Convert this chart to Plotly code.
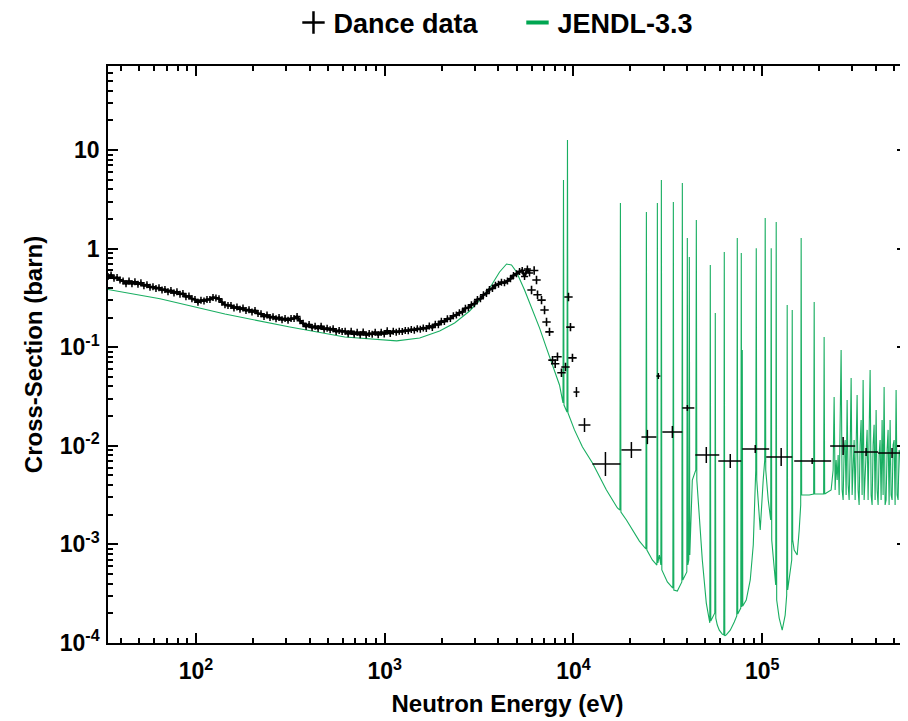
import numpy as np
import plotly.graph_objects as go

# %%
# JENDL-3.3 evaluated cross-section (eV, barn)
jendl_energy = [
    34.2, 64.5, 142.4, 314.4, 614.3, 1157, 1532, 1954, 2346, 2816, 3300, 3683,
    4060, 4421, 4697, 4993, 5505, 6069, 6609, 7197, 7743, 8432, 8800, 8854, 8908,
    9075, 9237, 9295, 9352, 10120, 11160, 12610, 14950, 17090, 17620, 17730, 17840,
    19080, 20520, 22350, 24190, 24340, 24490, 26180, 27660, 27830, 28000, 28520,
    29040, 29220, 29390, 31430, 33610, 33820, 34020, 35500, 37510, 37740, 37970,
    39140, 39860, 40100, 40350, 40840, 41090, 41340, 42620, 44480, 44760, 45030,
    45860, 48150, 50550, 52430, 52750, 53070, 53390, 54380, 55730, 56070, 56410,
    56760, 57800, 59220, 61430, 62570, 62950, 63340, 64510, 67720, 71110, 73310,
    73760, 74210, 76970, 77450, 77920, 78400, 78880, 82290, 86410, 89640, 92420,
    92980, 93540, 97590, 101200, 103100, 103700, 104400, 107600, 110900, 111600,
    112300, 117900, 118600, 119300, 123000, 127600, 132300, 134800, 135600, 136400,
    138900, 143300, 144200, 145000, 147700, 153200, 157000, 159900, 160800, 161800,
    177400, 187300, 188500, 189600, 211500, 212800, 214200, 231800,
    237500, 240400, 243400, 246400, 249400, 252500, 255600, 258700, 261800, 265000,
    268300, 271600, 274900, 278300, 281700, 285200, 288700, 292200, 295800, 299400,
    303100, 306800, 310600, 314400, 318200, 322100, 326100, 330100, 334100, 338200,
    342400, 346600, 350800, 355100, 359500, 363900, 368400, 372900, 377500, 382100,
    386800, 391500, 396300, 401200, 406100, 411100, 416100, 421200, 426400, 431600,
    436900, 442300, 447700, 453200, 458800, 464400, 470100, 475900, 481700, 487600,
    493600, 499700, 505800, 512000, 518300, 524600, 531100, 537600, 544200, 550800,
    557600, 564400, 571300, 578300,
]
jendl_xs = [
    0.385, 0.31, 0.217, 0.160, 0.127, 0.116, 0.124, 0.146, 0.176, 0.233, 0.323, 0.427,
    0.579, 0.698, 0.682, 0.579, 0.380, 0.238, 0.157, 0.098, 0.066, 0.0414, 0.0272, 4.96, 0.0259,
    0.0242, 0.0220, 12.6, 0.0215, 0.0145, 0.00972, 0.00669, 0.00356, 0.00234, 0.00223, 2.90, 0.00213,
    0.00177, 0.00140, 0.00108, 0.000898, 2.35, 0.000877, 0.000695, 0.000618, 2.90, 0.00065, 0.000781,
    0.000618, 4.96, 0.00055, 0.000416, 0.000361, 2.97, 0.000345, 0.000337, 0.000416, 4.63, 0.000436,
    0.000489, 0.000525, 1.28, 0.000618, 0.000695, 0.822, 0.000781, 0.0045, 0.00568, 1.95, 0.0045,
    0.00282, 0.000695, 0.000254, 0.000163, 0.00016, 0.682, 0.000167, 0.000179, 0.000202, 0.000202, 0.222,
    0.000179, 0.000152, 0.000135, 0.000123, 0.000121, 0.924, 0.000118, 0.000121, 0.000135, 0.000163, 0.000188,
    1.28, 0.000197, 0.000226, 0.902, 0.000232, 0.0937, 0.000237, 0.000273, 0.000436, 0.000986, 0.00568,
    1.01, 0.0045, 0.0014, 0.0045, 0.00718, 2.04, 0.00568, 0.00282, 0.00177, 1.01,
    0.00111, 0.000388, 1.86, 0.000273, 0.000179, 0.000135, 0.000192, 0.000307, 0.268, 0.000345,
    0.000436, 0.000695, 0.238, 0.00111, 0.000877, 0.000781, 0.0014, 0.00251, 1.28, 0.00317,
    0.00317, 0.00324, 0.287, 0.00324, 0.00324, 0.127, 0.00324, 0.00356,
    0.00568, 0.0312, 0.00356, 0.00718, 0.0045, 0.00807, 0.00317, 0.0145, 0.0937, 0.00356,
    0.00282, 0.00909, 0.01145, 0.00317, 0.0291, 0.0040, 0.00282, 0.00807, 0.0487, 0.00317,
    0.00568, 0.01145, 0.00282, 0.0183, 0.0327, 0.00356, 0.00251, 0.0102, 0.0183, 0.00317,
    0.0465, 0.00282, 0.00568, 0.01145, 0.0145, 0.00282, 0.00909, 0.0587, 0.00317, 0.00251,
    0.0102, 0.0163, 0.00282, 0.0231, 0.00356, 0.00251, 0.00807, 0.01145, 0.00282, 0.0183,
    0.00317, 0.0395, 0.00251, 0.00282, 0.00909, 0.0145, 0.00251, 0.0183, 0.00317, 0.00282,
    0.0102, 0.01145, 0.00251, 0.0368, 0.00317, 0.00282, 0.00909, 0.00807, 0.00251, 0.0183,
    0.00317, 0.00356, 0.0102, 0.00718,
]

# DANCE data, fine binning (eV, barn)
dance_energy = [
    34.2, 35.5, 36.8, 38.2, 39.6, 41.1, 42.6, 44.2, 45.8, 47.5, 49.3, 51.1, 53.0, 55.0,
    57.1, 59.2, 61.4, 63.7, 66.1, 68.5, 71.1, 73.7, 76.5, 79.3, 82.3, 85.3, 88.5, 91.8,
    95.2, 98.8, 102.5, 106.3, 110.3, 114.4, 118.6, 123.1, 127.6, 132.4, 137.3, 142.5,
    147.8, 153.3, 159.0, 164.9, 171.1, 177.5, 184.1, 191.0, 198.1, 205.5, 213.2, 221.1,
    229.4, 237.9, 246.8, 256.0, 265.6, 275.5, 285.8, 296.5, 307.5, 319.0, 330.9, 343.3,
    356.1, 369.4, 383.2, 397.5, 412.3, 427.7, 443.7, 460.3, 477.5, 495.3, 513.8, 533.0,
    552.9, 573.5, 595.0, 617.2, 640.2, 664.1, 688.9, 714.6, 741.3, 769.0, 797.7, 827.5,
    858.4, 890.4, 923.7, 958.2, 994.0, 1031, 1070, 1110, 1151, 1194, 1239, 1285, 1333,
    1383, 1435, 1488, 1544, 1601, 1661, 1723, 1788, 1854, 1924, 1996, 2070, 2148, 2228,
    2311, 2397, 2487, 2580, 2676, 2776, 2880, 2987, 3099, 3215, 3335, 3459, 3588, 3722,
    3861, 4006, 4155, 4310, 4471, 4638, 4812, 4991, 5180, 5350, 5505, 5700, 5850, 5996,
    6190, 6371, 6450, 6774, 7026, 7199, 7464, 7744, 8000, 8228, 8639, 9073, 9408, 9641,
    9878,
]
dance_xs = [
    0.52, 0.54, 0.50, 0.51, 0.48, 0.47, 0.44, 0.47, 0.44, 0.46, 0.435, 0.45, 0.42, 0.43,
    0.405, 0.41, 0.395, 0.40, 0.38, 0.385, 0.365, 0.375, 0.355, 0.365, 0.345, 0.35, 0.325, 0.33,
    0.31, 0.305, 0.285, 0.30, 0.295, 0.305, 0.305, 0.32, 0.315, 0.31, 0.285, 0.27,
    0.265, 0.265, 0.25, 0.255, 0.243, 0.25, 0.235, 0.24, 0.228, 0.236, 0.22, 0.218,
    0.205, 0.212, 0.20, 0.204, 0.194, 0.2, 0.19, 0.195, 0.188, 0.195, 0.195, 0.205,
    0.185, 0.175, 0.162, 0.17, 0.158, 0.163, 0.155, 0.163, 0.152, 0.156, 0.15, 0.154,
    0.144, 0.148, 0.144, 0.145, 0.137, 0.145, 0.135, 0.142, 0.134, 0.143, 0.133, 0.138,
    0.135, 0.142, 0.134, 0.142, 0.136, 0.147, 0.138, 0.145, 0.142, 0.145, 0.144, 0.148, 0.147,
    0.151, 0.149, 0.154, 0.152, 0.157, 0.155, 0.164, 0.158, 0.171, 0.169, 0.183, 0.182, 0.194, 0.195,
    0.208, 0.212, 0.224, 0.228, 0.248, 0.252, 0.27, 0.276, 0.305, 0.31, 0.34, 0.35, 0.385, 0.395,
    0.425, 0.435, 0.455, 0.45, 0.47, 0.495, 0.535, 0.555, 0.585, 0.60, 0.52, 0.62, 0.565, 0.38,
    0.60, 0.48, 0.34, 0.30, 0.238, 0.18, 0.143, 0.074, 0.068, 0.080, 0.055, 0.063, 0.323, 0.160,
    0.078,
]
dance_continuous_upto = 5850  # eV, above this the fine bins are scattered

# DANCE data, coarse bins with energy bin edges and cross-section error band
binned_energy = [10370, 11440, 14770, 20270, 24640, 28170, 33420, 40110, 50550, 67720,
                 91830, 126000, 183900, 268300, 355000, 487300]
binned_e_lo = [10000, 10630, 12610, 17950, 22910, 27500, 29570, 37740, 44210, 58510,
               78400, 105000, 147700, 229000, 306800, 411000]
binned_e_hi = [10760, 12300, 17730, 22910, 27500, 28870, 37740, 43680, 59220, 77450,
               108900, 144200, 231800, 310600, 411000, 578000]
binned_xs = [0.0351, 0.01625, 0.00654, 0.00908, 0.01228, 0.0510, 0.0138, 0.0242, 0.00807,
             0.00701, 0.00928, 0.0077, 0.00701, 0.00995, 0.00865, 0.00845]
binned_xs_lo = [0.0312, 0.0138, 0.00494, 0.00752, 0.0104, 0.0476, 0.0120, 0.0226, 0.00669,
                0.00595, 0.00846, 0.00624, 0.00654, 0.00807, 0.0079, 0.00752]
binned_xs_hi = [0.0395, 0.0191, 0.00865, 0.01092, 0.0145, 0.0547, 0.0159, 0.0259, 0.00972,
                0.00826, 0.0102, 0.0095, 0.00752, 0.01228, 0.0095, 0.0095]

x_tickvals = [1e2, 1e3, 1e4, 1e5]
x_ticktext = ["10<sup>2</sup>", "10<sup>3</sup>", "10<sup>4</sup>", "10<sup>5</sup>"]
y_tickvals = [1e-4, 1e-3, 1e-2, 1e-1, 1, 10]
y_ticktext = ["10<sup>-4</sup>", "10<sup>-3</sup>", "10<sup>-2</sup>", "10<sup>-1</sup>", "1", "10"]

green = "rgb(0,166,81)"
font_family = "Liberation Sans, Arial, Helvetica, sans-serif"
x_range = [1.534, 5.767]
y_range = [-4, 1.852]

# minor tick positions, 2..9 within each decade
x_minor = [m * 10.0**d for d in range(1, 6) for m in range(2, 10)]
y_minor = [m * 10.0**d for d in range(-4, 2) for m in range(2, 10)]

# %%
fig = go.Figure()

fig.add_trace(
    go.Scatter(
        x=jendl_energy, y=jendl_xs, mode="lines", showlegend=False,
        line={"color": green, "width": 1.1}, opacity=0.9,
    )
)

de = np.array(dance_energy)
dx = np.array(dance_xs)
cont = de <= dance_continuous_upto
fig.add_trace(
    go.Scatter(
        x=de[cont], y=dx[cont], mode="lines+markers", showlegend=False,
        line={"color": "black", "width": 2.6},
        marker={"symbol": "cross-thin", "size": 5, "line": {"width": 1.5, "color": "black"}},
    )
)
fig.add_trace(
    go.Scatter(
        x=de[~cont], y=dx[~cont], mode="markers", showlegend=False,
        marker={"symbol": "cross-thin", "size": 6, "line": {"width": 1.6, "color": "black"}},
    )
)

be = np.array(binned_energy)
bx = np.array(binned_xs)
fig.add_trace(
    go.Scatter(
        x=binned_energy, y=binned_xs, mode="markers", showlegend=False,
        marker={"size": 1, "color": "black"},
        error_x={"type": "data", "symmetric": False, "array": np.array(binned_e_hi) - be,
                 "arrayminus": be - np.array(binned_e_lo), "width": 0, "thickness": 1.5,
                 "color": "black"},
        error_y={"type": "data", "symmetric": False, "array": np.array(binned_xs_hi) - bx,
                 "arrayminus": bx - np.array(binned_xs_lo), "width": 0, "thickness": 1.5,
                 "color": "black"},
    )
)

# legend entries (attached to the labelled overlay axes)
fig.add_trace(
    go.Scatter(
        x=[None], y=[None], mode="markers", name="Dance data", xaxis="x2", yaxis="y2",
        marker={"symbol": "cross-thin", "size": 16, "line": {"width": 2.5, "color": "black"}},
    )
)
fig.add_trace(
    go.Scatter(
        x=[None], y=[None], mode="markers", name="JENDL-3.3", xaxis="x2", yaxis="y2",
        marker={"symbol": "line-ew", "size": 16, "line": {"width": 4, "color": green}},
    )
)

tick_font = {"size": 23, "color": "black", "family": font_family, "weight": "bold"}
title_font = {"size": 24, "color": "black", "family": font_family, "weight": "bold"}
axis_common = dict(
    type="log", showgrid=False, zeroline=False,
    showline=True, linecolor="black", linewidth=1.6, mirror="ticks",
    ticks="inside", tickwidth=1.6, tickcolor="black", tickmode="array",
)

# base axes carry the short minor ticks
fig.update_layout(
    xaxis={**axis_common, "range": x_range, "tickvals": x_minor, "ticklen": 5,
           "showticklabels": False},
    yaxis={**axis_common, "range": y_range, "tickvals": y_minor, "ticklen": 5,
           "showticklabels": False},
    # overlay axes carry the long major ticks, labels and titles
    xaxis2={**axis_common, "range": x_range, "overlaying": "x", "anchor": "y2", "side": "bottom",
            "tickvals": x_tickvals, "ticktext": x_ticktext, "ticklen": 10,
            "tickfont": tick_font, "ticklabelstandoff": 7,
            "title": {"text": "Neutron Energy (eV)", "standoff": 12, "font": title_font}},
    yaxis2={**axis_common, "range": y_range, "overlaying": "y", "anchor": "x2", "side": "left",
            "tickvals": y_tickvals, "ticktext": y_ticktext, "ticklen": 10,
            "tickfont": tick_font, "ticklabelstandoff": 2,
            "title": {"text": "Cross-Section (barn)", "standoff": 10, "font": title_font}},
)

fig.update_layout(
    width=900, height=713,
    margin={"l": 100, "r": 1, "t": 58, "b": 78, "autoexpand": False},
    paper_bgcolor="white", plot_bgcolor="white",
    font={"family": font_family, "color": "black"},
    legend={
        "orientation": "h", "x": 0.5125, "xanchor": "center", "y": 1.0745, "yanchor": "middle",
        "font": {"size": 27, "color": "black", "family": font_family, "weight": "bold"},
        "bgcolor": "rgba(0,0,0,0)", "entrywidth": 179,
    },
)

fig.write_html("out.html")
